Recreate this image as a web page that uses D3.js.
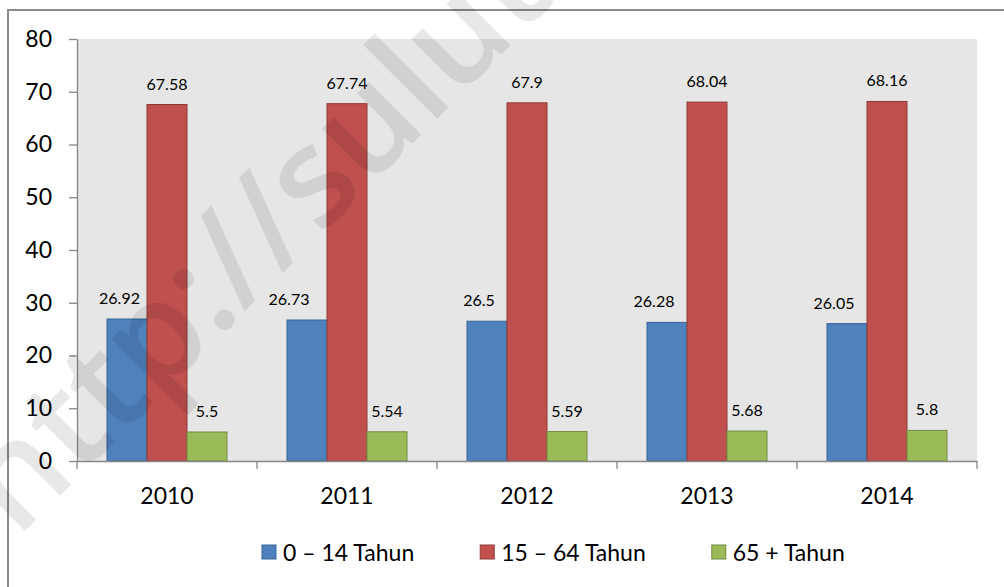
<!DOCTYPE html>
<html>
<head>
<meta charset="utf-8">
<script src="https://cdn.jsdelivr.net/npm/d3@7"></script>
<style>
  html, body { margin: 0; padding: 0; background: #fff; }
  svg { display: block; }
  text { font-family: Lato, "Open Sans", sans-serif; fill: #000; }
</style>
</head>
<body>
<svg id="chart" width="1004" height="587"></svg>
<script>
// ---- data ----
const years = ["2010", "2011", "2012", "2013", "2014"];
const seriesNames = ["0 \u2013 14 Tahun", "15 \u2013 64 Tahun", "65 + Tahun"];
const age0to14 = [26.92, 26.73, 26.5, 26.28, 26.05];
const age15to64 = [67.58, 67.74, 67.9, 68.04, 68.16];
const age65plus = [5.5, 5.54, 5.59, 5.68, 5.8];
const yTicks = [0, 10, 20, 30, 40, 50, 60, 70, 80];

// ---- style / layout ----
const fills = ["#4f81bd", "#c0504d", "#9bbb59"];
const strokes = ["#3a6497", "#8e3a38", "#728b42"];
const blueLabelNudge = [-7.5, -18, -8, -13, -13];

const svg = d3.select("#chart");
const plot = { left: 77, right: 977, top: 39, bottom: 461 };

// outer frame
svg.append("rect")
  .attr("x", 8).attr("y", 10).attr("width", 1100).attr("height", 700)
  .attr("fill", "#fff").attr("stroke", "#8a8a8a").attr("stroke-width", 2);

// plot background
svg.append("rect")
  .attr("x", plot.left).attr("y", plot.top)
  .attr("width", plot.right - plot.left).attr("height", plot.bottom - plot.top)
  .attr("fill", "#e6e6e6");

const x0 = d3.scaleBand().domain(years).range([plot.left, plot.right]);
const x1 = d3.scaleBand().domain(seriesNames).range([30, 150]);
const y = d3.scaleLinear().domain([0, 80]).range([plot.bottom, plot.top]);

const allSeries = [age0to14, age15to64, age65plus];
const rows = [];
allSeries.forEach((vals, si) => {
  vals.forEach((v, i) => rows.push({ year: years[i], yi: i, s: si, name: seriesNames[si], v }));
});

// bars
svg.append("g").selectAll("rect").data(rows).join("rect")
  .attr("x", d => x0(d.year) + x1(d.name))
  .attr("y", d => y(d.v))
  .attr("width", x1.bandwidth())
  .attr("height", d => y(0) - y(d.v))
  .attr("fill", d => fills[d.s])
  .attr("stroke", d => strokes[d.s])
  .attr("stroke-width", 1);

// data labels
svg.append("g").selectAll("text").data(rows).join("text")
  .attr("x", d => x0(d.year) + x1(d.name) + x1.bandwidth() / 2 + (d.s === 0 ? blueLabelNudge[d.yi] : 0))
  .attr("y", d => y(d.v) - 15)
  .attr("text-anchor", "middle")
  .style("font-size", "16px")
  .text(d => String(d.v));

// y axis
const yAxis = svg.append("g")
  .attr("transform", `translate(${plot.left},0)`)
  .call(d3.axisLeft(y).tickValues(yTicks).tickSize(8).tickPadding(17).tickSizeOuter(0));
yAxis.select(".domain").attr("stroke", "#868686").attr("stroke-width", 1.3);
yAxis.selectAll(".tick line").attr("stroke", "#868686").attr("stroke-width", 1.3);
yAxis.selectAll(".tick text").style("font-size", "23px").style("font-family", "Lato").attr("fill", "#000");

// x axis
const xAxis = svg.append("g")
  .attr("transform", `translate(0,${plot.bottom})`)
  .call(d3.axisBottom(x0).tickSize(0).tickPadding(27));
xAxis.select(".domain").attr("stroke", "#868686").attr("stroke-width", 1.3);
xAxis.selectAll(".tick text").style("font-size", "23px").style("font-family", "Lato").attr("fill", "#000");
// category boundary ticks
const boundaries = years.map(yr => x0(yr)).concat([x0(years[years.length - 1]) + x0.bandwidth()]);
xAxis.selectAll(".bound").data(boundaries).join("line")
  .attr("class", "bound")
  .attr("x1", d => d).attr("x2", d => d)
  .attr("y1", 0).attr("y2", 8)
  .attr("stroke", "#868686").attr("stroke-width", 1.3);

// legend
const legend = svg.append("g");
const legendBaseline = 561;
const items = legend.selectAll("g").data(seriesNames).join("g");
items.append("rect")
  .attr("width", 14).attr("height", 14)
  .attr("y", legendBaseline - 16)
  .attr("fill", (d, i) => fills[i]).attr("stroke", (d, i) => strokes[i]).attr("stroke-width", 1);
items.append("text")
  .attr("x", 21).attr("y", legendBaseline)
  .style("font-size", "23px")
  .text(d => d);
let cx = 262;
items.each(function () {
  const w = this.getBBox().width;
  d3.select(this).attr("transform", `translate(${cx},0)`);
  cx += w + 66;
});

// watermark
svg.append("text")
  .attr("transform", "translate(17,539) rotate(-45)")
  .style("font-family", "Open Sans, sans-serif")
  .style("font-weight", "600")
  .style("font-size", "138px")
  .attr("fill", "#000")
  .attr("fill-opacity", 0.09)
  .text("http://sulut.bps.go.id");
</script>
</body>
</html>
